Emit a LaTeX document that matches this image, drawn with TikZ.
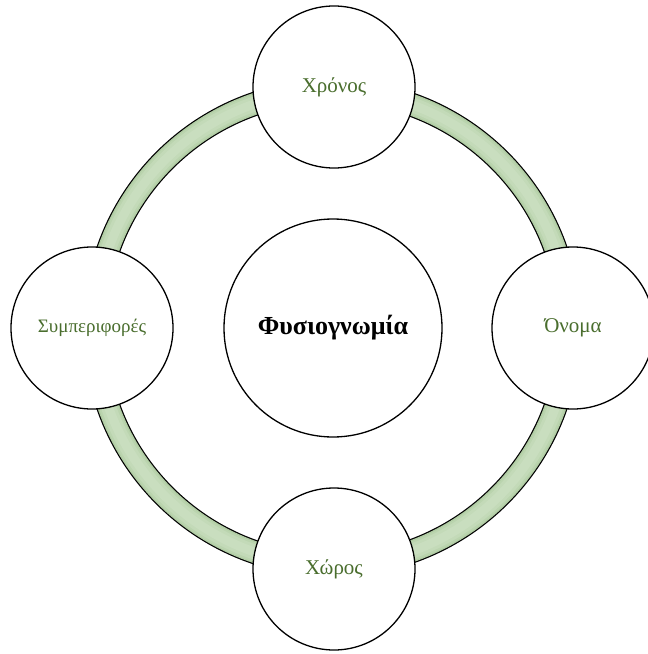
\documentclass[tikz,border=0pt]{standalone}
\usepackage{fontspec}
\setmainfont{Liberation Serif}
\definecolor{labelgreen}{HTML}{4A6E2E}
\definecolor{bandA}{HTML}{AFCBA2}
\definecolor{bandB}{HTML}{BAD4AE}
\definecolor{bandC}{HTML}{C3DAB8}
\definecolor{bandD}{HTML}{C9DEBF}
\tikzset{
  outer/.style={circle, draw=black, line width=1.3bp, fill=white, minimum size=162bp, inner sep=0pt,
    text=labelgreen, font=\fontsize{21bp}{24bp}\selectfont},
  hub/.style={circle, draw=black, line width=1.3bp, fill=white, minimum size=218bp, inner sep=0pt,
    font=\fontsize{26bp}{29bp}\selectfont\bfseries},
  bandline/.style={line width=#1}
}
\begin{document}
\begin{tikzpicture}[x=1bp,y=-1bp]
\useasboundingbox (0,0) rectangle (648,654);
% ring
\coordinate (rc) at (332,328);
\draw[bandline=24bp, black] (rc) circle[radius=237];
\draw[bandline=21.6bp, bandA] (rc) circle[radius=237];
\draw[bandline=19bp, bandB] (rc) circle[radius=237];
\draw[bandline=15bp, bandC] (rc) circle[radius=237];
\draw[bandline=9bp, bandD] (rc) circle[radius=237];
% nodes
\node[hub] (center) at (333,328) {Φυσιογνωμία};
\node[outer] (top) at (334,87) {Χρόνος};
\node[outer] (right) at (573,328) {Όνομα};
\node[outer] (bottom) at (334,569) {Χώρος};
\node[outer, font=\fontsize{19bp}{22bp}\selectfont] (left) at (92,328) {Συμπεριφορές};
\end{tikzpicture}
\end{document}
